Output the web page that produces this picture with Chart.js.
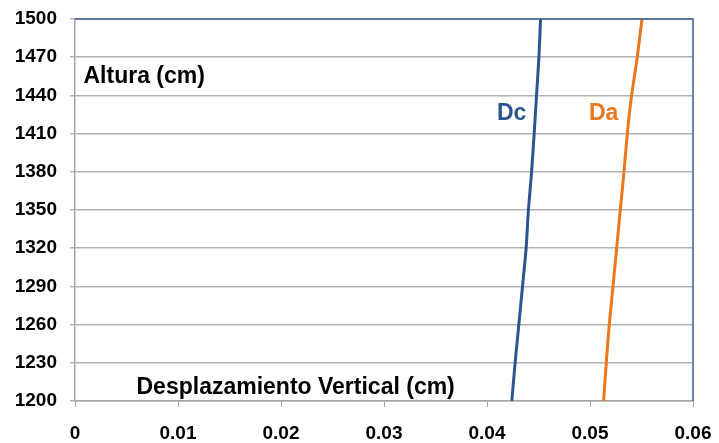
<!DOCTYPE html>
<html>
<head>
<meta charset="utf-8">
<script src="https://cdn.jsdelivr.net/npm/chart.js@4"></script>
<style>
  html, body { margin: 0; padding: 0; background: #fff; }
  #wrap { width: 719px; height: 443px; }
</style>
</head>
<body>
<div id="wrap"><canvas id="chart" width="719" height="443"></canvas></div>
<script>
// heights (cm) and vertical displacement (cm)
const alturas = [1200, 1230, 1260, 1290, 1320, 1350, 1380, 1410, 1440, 1470, 1500];
const dc = [0.04241, 0.04273, 0.04309, 0.04345, 0.04380, 0.04402, 0.04433, 0.04458, 0.04481, 0.04504, 0.04520];
const da = [0.05132, 0.05158, 0.05187, 0.05223, 0.05259, 0.05294, 0.05330, 0.05362, 0.05404, 0.05459, 0.05504];
const yTicks = [1200, 1230, 1260, 1290, 1320, 1350, 1380, 1410, 1440, 1470, 1500];
const xTicks = [0, 0.01, 0.02, 0.03, 0.04, 0.05, 0.06];

const blue = "#2b5591";
const orange = "#ec761a";
const font = "'Liberation Sans', Arial, sans-serif";

function points(xs) {
    return alturas.map((h, i) => ({ x: xs[i], y: h }));
}

// frame on top/right + text labels inside the plot
const extras = {
    id: "extras",
    afterDraw(chart) {
        const { ctx, chartArea: a } = chart;
        ctx.save();
        ctx.strokeStyle = "#3a5f95";
        ctx.lineWidth = 1.5;
        ctx.beginPath();
        ctx.moveTo(a.left, a.top);
        ctx.lineTo(a.right, a.top);
        ctx.lineTo(a.right, a.bottom);
        ctx.stroke();

        ctx.textBaseline = "alphabetic";
        ctx.textAlign = "left";
        ctx.fillStyle = "#000";
        ctx.font = "bold 23px " + font;
        ctx.fillText("Altura (cm)", a.left + 8.5, a.top + 64);
        ctx.fillText("Desplazamiento Vertical (cm)", a.left + 61.5, a.bottom - 7);

        ctx.fillStyle = blue;
        ctx.fillText("Dc", a.left + 422, a.top + 101);
        ctx.fillStyle = orange;
        ctx.fillText("Da", a.left + 514, a.top + 101);
        ctx.restore();
    }
};

new Chart(document.getElementById("chart").getContext("2d"), {
    type: "scatter",
    data: {
        datasets: [
            { label: "Dc", data: points(dc), showLine: true, borderColor: blue, borderWidth: 3, pointRadius: 0, tension: 0.2 },
            { label: "Da", data: points(da), showLine: true, borderColor: orange, borderWidth: 3, pointRadius: 0, tension: 0.2 }
        ]
    },
    options: {
        responsive: false,
        animation: false,
        layout: { padding: { top: 19, right: 26, left: 0, bottom: 0 } },
        plugins: { legend: { display: false }, tooltip: { enabled: false } },
        scales: {
            x: {
                type: "linear",
                min: 0, max: 0.06,
                afterBuildTicks: s => { s.ticks = xTicks.map(v => ({ value: v })); },
                afterFit: s => { s.height = 42; s.paddingLeft = 0; s.paddingRight = 0; },
                grid: { drawOnChartArea: false, drawTicks: true, tickLength: 6, color: "#a6a6a6" },
                border: { color: "#a6a6a6", width: 1.5 },
                ticks: {
                    padding: 15,
                    color: "#000",
                    font: { family: font, size: 19, weight: "bold" },
                    callback: v => String(v)
                }
            },
            y: {
                type: "linear",
                min: 1200, max: 1500,
                afterBuildTicks: s => { s.ticks = yTicks.map(v => ({ value: v })); },
                afterFit: s => { s.width = 75; s.paddingTop = 0; s.paddingBottom = 0; },
                grid: { color: "#b3b3b3", lineWidth: 1.5, tickLength: 5 },
                border: { color: "#a6a6a6", width: 1.5 },
                ticks: {
                    padding: 13,
                    color: "#000",
                    font: { family: font, size: 19, weight: "bold" },
                    callback: v => String(v)
                }
            }
        }
    },
    plugins: [extras]
});
</script>
</body>
</html>
